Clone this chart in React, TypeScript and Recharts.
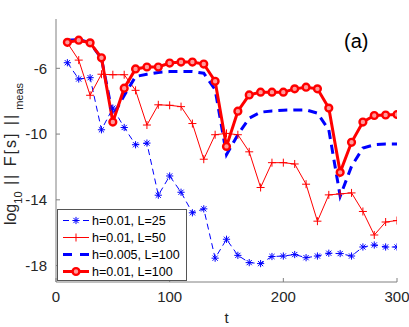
import React from "react";
import {
  LineChart,
  Line,
  XAxis,
  YAxis,
  Legend,
  Label,
} from "recharts";

// time steps
const tValues = [
  10, 20, 30, 40, 50, 60, 70, 80, 90, 100, 110, 120, 130, 140, 150, 160, 170,
  180, 190, 200, 210, 220, 230, 240, 250, 260, 270, 280, 290, 300,
];

// log10 ||F[s]||_meas for each run
const h01L25 = [
  -5.66, -6.65, -6.57, -9.74, -8.42, -9.6, -10.65, -10.55, -13.72, -12.55,
  -13.54, -14.79, -14.55, -17.55, -16.4, -17.38, -17.82, -17.88, -17.45,
  -17.42, -17.33, -17.52, -17.42, -17.25, -17.27, -17.42, -16.87, -16.75,
  -16.87, -16.87,
];
const h01L50 = [
  -4.45, -5.5, -7.64, -6.36, -6.39, -6.39, -7.34, -9.45, -8.22, -8.25, -8.33,
  -9.36, -11.53, -10.04, -9.96, -10.04, -11.08, -13.25, -11.74, -11.74,
  -11.82, -13.05, -15.3, -13.7, -13.64, -13.58, -14.71, -16.14, -15.35,
  -15.26,
];
const h005L100 = [
  -4.29, -4.25, -4.45, -5.4, -8.9, -7.65, -6.5, -6.36, -6.25, -6.2, -6.2,
  -6.2, -6.3, -7.3, -11.25, -10.04, -9.03, -8.67, -8.59, -8.55, -8.53, -8.53,
  -8.73, -9.74, -13.78, -11.96, -10.85, -10.65, -10.6, -10.6,
];
const h01L100 = [
  -4.42, -4.29, -4.45, -5.36, -9.27, -7.21, -6.04, -5.92, -5.92, -5.68, -5.62,
  -5.62, -5.74, -6.79, -10.75, -8.61, -7.62, -7.45, -7.45, -7.45, -7.25,
  -7.15, -7.25, -8.42, -12.33, -10.5, -9.27, -8.87, -8.84, -8.81,
];

const xTicks = [0, 100, 200, 300];
const yTicks = [-18, -14, -10, -6];

const seriesNames = [
  "h=0.01, L=25",
  "h=0.01, L=50",
  "h=0.005, L=100",
  "h=0.01, L=100",
];

const data = tValues.map((t, i) => ({
  t,
  a: h01L25[i],
  b: h01L50[i],
  c: h005L100[i],
  d: h01L100[i],
}));

const FONT = "'Liberation Sans', Arial, Helvetica, sans-serif";
const AXIS = "#808080";
const BLUE = "#0000ff";
const RED = "#ff0000";

const starPath = (cx: number, cy: number) => {
  const s = 3.6;
  const d = 2.6;
  return `M${cx - s},${cy}L${cx + s},${cy}M${cx},${cy - s}L${cx},${cy + s}M${cx - d},${cy - d}L${cx + d},${cy + d}M${cx - d},${cy + d}L${cx + d},${cy - d}`;
};

const plusPath = (cx: number, cy: number) => {
  const s = 4;
  return `M${cx - s},${cy}L${cx + s},${cy}M${cx},${cy - s}L${cx},${cy + s}`;
};

const StarDot = (props: any) => {
  const { cx, cy, index } = props;
  if (cx == null || cy == null) return <g key={`s${index}`} />;
  return (
    <path key={`s${index}`} d={starPath(cx, cy)} stroke={BLUE} strokeWidth={1} fill="none" />
  );
};

const PlusDot = (props: any) => {
  const { cx, cy, index } = props;
  if (cx == null || cy == null) return <g key={`p${index}`} />;
  return (
    <path key={`p${index}`} d={plusPath(cx, cy)} stroke={RED} strokeWidth={1} fill="none" />
  );
};

const CircleDot = (props: any) => {
  const { cx, cy, index } = props;
  if (cx == null || cy == null) return <g key={`c${index}`} />;
  return (
    <circle key={`c${index}`} cx={cx} cy={cy} r={3.4} stroke={RED} strokeWidth={2.4} fill="#ff9a9a" />
  );
};

const LegendIcon = ({ i }: { i: number }) => {
  const y = 8.5;
  if (i === 0)
    return (
      <svg width={28} height={17}>
        <line x1={1} y1={y} x2={27} y2={y} stroke={BLUE} strokeWidth={1} strokeDasharray="6 4" />
        <path d={starPath(14, y)} stroke={BLUE} strokeWidth={1} fill="none" />
      </svg>
    );
  if (i === 1)
    return (
      <svg width={28} height={17}>
        <line x1={1} y1={y} x2={27} y2={y} stroke={RED} strokeWidth={1} />
        <path d={plusPath(14, y)} stroke={RED} strokeWidth={1} fill="none" />
      </svg>
    );
  if (i === 2)
    return (
      <svg width={28} height={17}>
        <line x1={1} y1={y} x2={27} y2={y} stroke={BLUE} strokeWidth={3} strokeDasharray="9 8" />
      </svg>
    );
  return (
    <svg width={28} height={17}>
      <line x1={1} y1={y} x2={27} y2={y} stroke={RED} strokeWidth={3} />
      <circle cx={14} cy={y} r={3.4} stroke={RED} strokeWidth={2.4} fill="#ff9a9a" />
    </svg>
  );
};

const renderLegend = () => (
  <div
    style={{
      boxSizing: "border-box",
      width: 130,
      height: 72,
      border: "1px solid #555",
      background: "#fff",
      padding: "2px 0 0 4px",
      fontFamily: FONT,
      fontSize: 12.5,
      color: "#000",
    }}
  >
    {seriesNames.map((name, i) => (
      <div key={name} style={{ display: "flex", alignItems: "center", height: 17 }}>
        <LegendIcon i={i} />
        <span style={{ marginLeft: 2, whiteSpace: "nowrap" }}>{name}</span>
      </div>
    ))}
  </div>
);

const YLabel = () => (
  <text
    x={16}
    y={154}
    transform="rotate(-90 16 154)"
    textAnchor="middle"
    fontFamily={FONT}
    fontSize={16}
    fill="#262626"
  >
    <tspan>log</tspan>
    <tspan fontSize={11} dy={6}>10</tspan>
    <tspan dy={-6} letterSpacing={2}>{"  || F[s] ||"}</tspan>
    <tspan fontSize={11} dy={7}> meas</tspan>
  </text>
);

const App = () => {
  return (
    <div
      style={{
        position: "absolute",
        left: 0,
        top: 0,
        width: 409,
        height: 327,
        background: "#fff",
      }}
    >
      <LineChart
        width={409}
        height={327}
        data={data}
        margin={{ top: 19, right: 12, bottom: 0, left: 0 }}
      >
        <XAxis
          xAxisId="bottom"
          dataKey="t"
          type="number"
          domain={[0, 300]}
          ticks={xTicks}
          height={45}
          axisLine={{ stroke: AXIS }}
          tickLine={{ stroke: AXIS }}
          tickSize={-4}
          tickMargin={13}
          tick={{ fill: "#262626", fontSize: 15, fontFamily: FONT }}
          allowDataOverflow
        >
          <Label
            content={() => (
              <text x={226.5} y={323} textAnchor="middle" fontFamily={FONT} fontSize={15} fill="#262626">
                t
              </text>
            )}
          />
        </XAxis>
        <XAxis
          xAxisId="top"
          orientation="top"
          dataKey="t"
          type="number"
          domain={[0, 300]}
          ticks={xTicks}
          height={0}
          axisLine={{ stroke: AXIS }}
          tickLine={{ stroke: AXIS }}
          tickSize={-4}
          tick={false}
          allowDataOverflow
        />
        <YAxis
          yAxisId="left"
          type="number"
          domain={[-19, -3]}
          ticks={yTicks}
          width={56}
          axisLine={{ stroke: AXIS }}
          tickLine={{ stroke: AXIS }}
          tickSize={-4}
          tickMargin={13}
          tick={{ fill: "#262626", fontSize: 15, fontFamily: FONT }}
          allowDataOverflow
        >
          <Label content={() => <YLabel />} />
        </YAxis>
        <YAxis
          yAxisId="right"
          orientation="right"
          type="number"
          domain={[-19, -3]}
          ticks={yTicks}
          width={0}
          axisLine={{ stroke: AXIS }}
          tickLine={{ stroke: AXIS }}
          tickSize={-4}
          tick={false}
          allowDataOverflow
        />
        <Legend
          content={renderLegend}
          layout="vertical"
          align="center"
          verticalAlign="middle"
          wrapperStyle={{ position: "absolute", left: 57, top: 209, width: 130, height: 72 }}
        />
        <Line
          xAxisId="bottom"
          yAxisId="left"
          dataKey="a"
          name={seriesNames[0]}
          stroke={BLUE}
          strokeWidth={1}
          strokeDasharray="6 4"
          dot={StarDot}
          activeDot={false}
          isAnimationActive={false}
        />
        <Line
          xAxisId="bottom"
          yAxisId="left"
          dataKey="b"
          name={seriesNames[1]}
          stroke={RED}
          strokeWidth={1}
          dot={PlusDot}
          activeDot={false}
          isAnimationActive={false}
        />
        <Line
          xAxisId="bottom"
          yAxisId="left"
          dataKey="c"
          name={seriesNames[2]}
          stroke={BLUE}
          strokeWidth={3}
          strokeDasharray="9 6"
          dot={false}
          activeDot={false}
          isAnimationActive={false}
        />
        <Line
          xAxisId="bottom"
          yAxisId="left"
          dataKey="d"
          name={seriesNames[3]}
          stroke={RED}
          strokeWidth={3}
          dot={CircleDot}
          activeDot={false}
          isAnimationActive={false}
        />
      </LineChart>
      <div
        style={{
          position: "absolute",
          left: 344,
          top: 31,
          fontFamily: FONT,
          fontSize: 20,
          lineHeight: "20px",
          color: "#000",
        }}
      >
        (a)
      </div>
    </div>
  );
};

export default App;
